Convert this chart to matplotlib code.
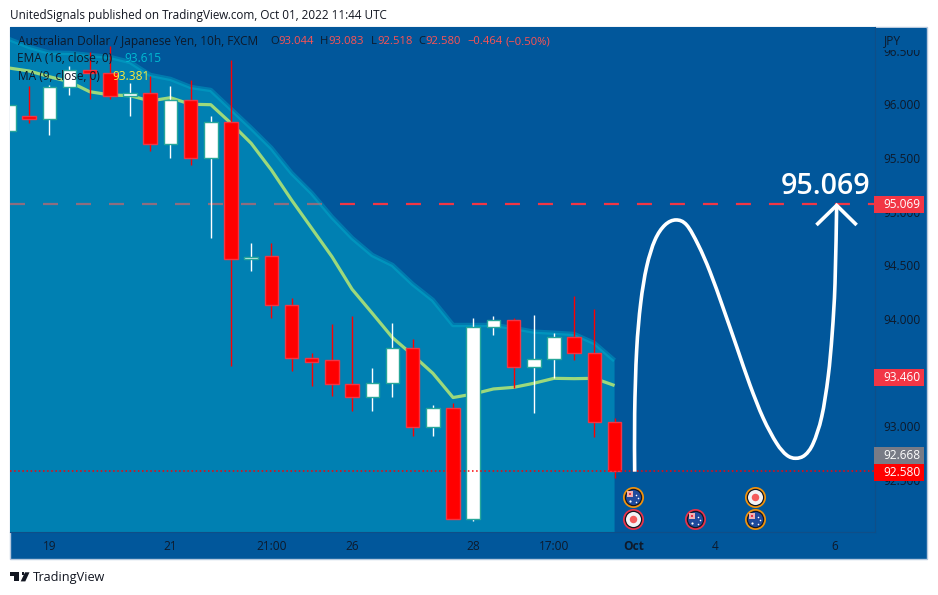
import numpy as np
import matplotlib
matplotlib.use("Agg")
import matplotlib.pyplot as plt
from matplotlib.patches import Rectangle, Polygon, PathPatch
from matplotlib.path import Path

plt.rcParams["font.family"] = "Open Sans"

# ---- data ----
opens  = [95.750,95.893,95.862,96.160,96.322,96.291,96.082,96.104,95.629,96.039,95.499,95.834,94.563,94.585,94.134,93.633,93.616,93.391,93.277,93.407,93.733,92.997,93.169,92.140,93.929,93.994,93.551,93.631,93.836,93.681,93.044]
highs  = [95.993,96.172,96.182,96.359,96.492,96.545,96.203,96.266,96.172,96.228,95.893,96.415,94.712,94.706,94.199,93.687,93.954,94.029,93.544,93.961,93.812,93.200,93.215,94.007,94.029,94.007,94.038,93.868,94.215,94.091,93.083]
lows   = [95.750,95.825,95.716,96.089,96.048,96.051,95.893,95.567,95.504,95.436,94.759,93.566,94.451,94.013,93.516,93.377,93.286,93.144,93.144,93.277,92.913,92.913,92.140,92.121,93.852,93.361,93.128,93.448,93.619,92.904,92.518]
closes = [95.993,95.862,96.160,96.322,96.291,96.082,96.104,95.629,96.039,95.499,95.834,94.563,94.582,94.134,93.633,93.603,93.391,93.277,93.407,93.733,92.997,93.169,92.140,93.929,93.994,93.551,93.631,93.836,93.681,93.044,92.580]
ema_16 = [96.610,96.536,96.483,96.480,96.461,96.443,96.396,96.275,96.238,96.163,96.135,95.958,95.781,95.595,95.362,95.175,94.952,94.756,94.597,94.504,94.327,94.178,93.945,93.945,93.945,93.917,93.883,93.873,93.861,93.777,93.615]
ma_9   = [96.340,96.312,96.259,96.212,96.119,96.089,96.082,96.033,96.063,96.002,95.998,95.825,95.638,95.390,95.110,94.846,94.582,94.278,94.054,93.827,93.665,93.495,93.269,93.302,93.349,93.364,93.402,93.448,93.445,93.448,93.381]

drawn_x = [30.996,30.996,31.095,31.293,31.590,32.001,32.496,33.041,33.571,34.146,34.725,35.384,36.047,36.706,37.365,38.028,38.524,38.97,39.43,39.84,40.26,40.58,40.78,40.92,41.0]
drawn_y = [92.578,93.122,93.712,94.147,94.488,94.737,94.877,94.924,94.877,94.691,94.442,94.101,93.743,93.386,93.076,92.843,92.733,92.703,92.733,92.843,93.090,93.463,93.868,94.334,95.048]
head_x = [40.0,41.0,41.99]
head_y = [94.877,95.06,94.877]

target_price = 95.069
last_price = 92.580
price_ticks = [96.5,96.0,95.5,95.0,94.5,94.0,93.5,93.0,92.5]
time_pos = [2,8,13,17,23,27,30.95,35,40.92]
time_labels = ["19","21","21:00","26","28","17:00","Oct","4","6"]
events_flag = [(30.92,92.342),(33.98,92.137),(36.97,92.137)]
events_flag_ring = ["#F0920E","#E8334A","#F0920E"]
events_dot = [(30.92,92.137),(36.97,92.342)]
events_dot_ring = ["#E8334A","#F0920E"]

W, H = 938, 595
BG = "#01579B"
INK = "#0E1A2B"
RED = "#F23645"
fig = plt.figure(figsize=(W/100, H/100), dpi=100, facecolor="white")

def fx(x): return x / W
def fy(y): return 1 - y / H
def rect(x0, y0, x1, y1, **kw):
    kw.setdefault("lw", 0)
    r = Rectangle((fx(x0), fy(y1)), (x1-x0)/W, (y1-y0)/H, transform=fig.transFigure, **kw)
    fig.add_artist(r)
    return r
def label(x, y, s, **kw):
    kw.setdefault("color", INK); kw.setdefault("fontsize", 8.6); kw.setdefault("va", "center")
    return fig.text(fx(x), fy(y), s, **kw)

# panels
rect(10, 27, 927, 559, facecolor=BG, edgecolor="#B7C9DE", lw=1, zorder=-5)

ax = fig.add_axes([fx(10), fy(532), 865/W, 505/H], facecolor=BG)
ax.set_xlim(0.054, 42.9)
ax.set_ylim(92.016, 96.722)
for s in ax.spines.values():
    s.set_visible(False)
ax.spines["right"].set_visible(True); ax.spines["right"].set_color("#0F4E88"); ax.spines["right"].set_linewidth(0.8)
ax.spines["bottom"].set_visible(True); ax.spines["bottom"].set_color("#0F4E88"); ax.spines["bottom"].set_linewidth(0.8)

idx = np.arange(len(closes))

# target dashed line (under the translucent EMA area)
ax.axhline(target_price, color=RED, lw=1.6, dashes=(15/1.6/1.389, 18/1.6/1.389), dash_capstyle="butt", zorder=1)

# EMA area + band, MA line
ax.fill_between(idx, ema_16, 90, color="#00BCD4", alpha=0.41, lw=0, zorder=2)
ax.plot(idx, ema_16, color="#00BCD4", alpha=0.35, lw=3.2, zorder=3, solid_capstyle="butt")
ax.plot(idx, ma_9, color="#9CD97C", lw=2.3, zorder=4, solid_capstyle="butt")

# candles
for i in idx:
    up = closes[i] >= opens[i]
    wick = "#FFFFFF" if up else "#FF0000"
    edge = "#26A69A" if up else RED
    body = "#FFFFFF" if up else "#FF0000"
    ax.plot([i, i], [lows[i], highs[i]], color=wick, lw=1.0, zorder=5, solid_capstyle="butt")
    lo, hi = min(opens[i], closes[i]), max(opens[i], closes[i])
    ax.bar(i, hi-lo, bottom=lo, width=13.5/20.19, color=body, edgecolor=edge, lw=1.0, zorder=6)

# last price dotted line
ax.axhline(last_price, color="#FF0000", lw=1.1, dashes=(1.0, 1.7), dash_capstyle="butt", zorder=7)

# hand drawing: smooth curve through the drawn points
pts = np.column_stack([drawn_x, drawn_y])
verts, codes = [pts[0]], [Path.MOVETO]
n = len(pts)
for k in range(n-1):
    p0 = pts[max(k-1, 0)]; p1 = pts[k]; p2 = pts[k+1]; p3 = pts[min(k+2, n-1)]
    verts += [p1 + (p2-p0)/6, p2 - (p3-p1)/6, p2]
    codes += [Path.CURVE4]*3
ax.add_patch(PathPatch(Path(verts, codes), fc="none", ec="white", lw=2.6, zorder=8, capstyle="butt"))
ax.plot(head_x, head_y, color="white", lw=2.6, zorder=8, solid_joinstyle="miter", solid_capstyle="butt")

# event icons
PX, PY = 1/20.19, 1/107.3
def disc(x, y, d, c, z, dx=0, dy=0, marker="o"):
    ax.scatter([x+dx*PX], [y-dy*PY], s=(d/1.389)**2, c=c, marker=marker, lw=0, zorder=z)
for (x, y), ring in zip(events_dot, events_dot_ring):
    disc(x, y, 21, ring, 9); disc(x, y, 17.5, "#131722", 10); disc(x, y, 15, "#F2F3F6", 11); disc(x, y, 7.5, "#F45B5B", 12)
for (x, y), ring in zip(events_flag, events_flag_ring):
    disc(x, y, 21, ring, 9); disc(x, y, 17.5, "#131722", 10); disc(x, y, 15, "#1F4A9C", 11)
    disc(x, y, 7, "#F0B0B0", 12, -3, -3, "s"); disc(x, y, 3, "#E8334A", 13, -3, -3, "s")
    disc(x, y, 2.2, "white", 13, -3, 4); disc(x, y, 1.6, "white", 13, 3, -2); disc(x, y, 1.6, "white", 13, 5, 1); disc(x, y, 1.6, "white", 13, 3, 5)

# axes ticks
ax.yaxis.tick_right()
ax.set_yticks(price_ticks)
ax.set_yticklabels([f"{p:.3f}" for p in price_ticks], color=INK, fontsize=8.6)
ax.set_xticks(time_pos)
ax.set_xticklabels(time_labels, color=INK, fontsize=8.6)
ax.tick_params(axis="both", length=0)
ax.tick_params(axis="y", pad=6)
ax.tick_params(axis="x", pad=6)
ax.get_xticklabels()[time_labels.index("Oct")].set_fontweight("bold")

# price-scale cover and tags
rect(876, 28, 926, 50, facecolor=BG, zorder=5)
label(884, 40.5, "JPY", zorder=6)
for y0, y1, col, val in [(196, 213, RED, f"{target_price:.3f}"), (369, 386, RED, "93.460"),
                         (447, 464, "#787B86", "92.668"), (464, 481, "#FF0000", f"{last_price:.3f}")]:
    rect(874, y0, 924, y1, facecolor=col, zorder=5)
    label(883.5, (y0+y1)/2-0.3, val, color="white", zorder=6)

# big label
label(825.5, 186, f"{target_price:.3f}", color="white", fontsize=20.5, fontweight="semibold", ha="center", zorder=6)

# legend rows
label(18, 41.5, "Australian Dollar / Japanese Yen, 10h, FXCM", zorder=6)
VAL = "#FF5252"
for x, s, c in [(270, "O", INK), (278, "93.044", VAL), (320, "H", INK), (328, "93.083", VAL),
                (371, "L", INK), (377, "92.518", VAL), (418, "C", INK), (425, "92.580", VAL),
                (467, "\u22120.464", VAL), (505.7, "(\u22120.50%)", VAL)]:
    label(x, 41.5, s, color=c, zorder=6, fontsize=8.1)
label(17, 59, "EMA (16, close, 0)", zorder=6)
label(124, 59, "93.615", color="#00BCD4", zorder=6)
label(18, 76.5, "MA (9, close, 0)", zorder=6)
label(112, 76.5, "93.381", color="#FFEB3B", zorder=6)

# header & footer
label(10, 15, "UnitedSignals published on TradingView.com, Oct 01, 2022 11:44 UTC", color="#131722", fontsize=8.46)
label(33, 577.5, "TradingView", color="#131722", fontsize=9.2)
LOGO = "#131722"
rect(10, 572.3, 19.3, 575.7, facecolor=LOGO)
rect(14.3, 572.3, 19.3, 581.4, facecolor=LOGO)
fig.add_artist(Polygon([(fx(25), fy(572.3)), (fx(29.5), fy(572.3)), (fx(25.3), fy(581.4)), (fx(20.7), fy(581.4))],
                       transform=fig.transFigure, fc=LOGO, lw=0))
fig.add_artist(Polygon([(fx(21.6), fy(572.3)), (fx(24.1), fy(572.3)), (fx(24.1), fy(575.4)), (fx(21.6), fy(575.4))],
                       transform=fig.transFigure, fc=LOGO, lw=0))

fig.savefig("out.png", dpi=100, facecolor="white")
